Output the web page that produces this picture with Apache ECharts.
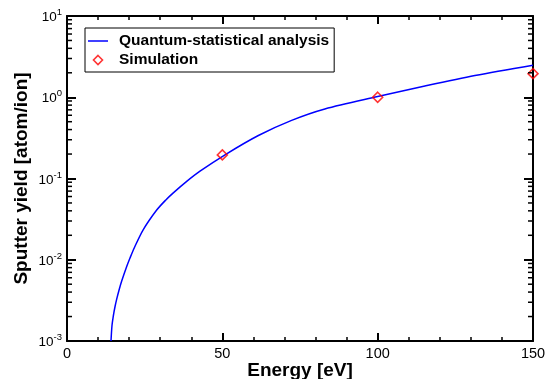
<!DOCTYPE html>
<html>
<head>
<meta charset="utf-8">
<style>html,body{margin:0;padding:0;background:#fff;}#chart{width:545px;height:379px;}</style>
<script src="https://cdn.jsdelivr.net/npm/echarts@6/dist/echarts.min.js"></script>
</head>
<body>
<div id="chart"></div>
<script>
// Data
const curveEnergy = [14.163, 14.485, 14.903, 15.45, 15.998, 16.739, 17.607, 19.217, 20.279, 21.677, 24.56, 28.873, 31.738, 34.216, 38.53, 42.811, 50.858, 61.6, 72.3, 83.0, 100, 115.2, 131.3, 150];
const curveYield  = [0.001, 0.00155, 0.00203, 0.00264, 0.00327, 0.00421, 0.00546, 0.00826, 0.01051, 0.01407, 0.0235, 0.0409, 0.0541, 0.0665, 0.0921, 0.123, 0.1957, 0.338, 0.519, 0.717, 1.02, 1.375, 1.85, 2.48];
const simEnergy = [50, 100, 150];
const simYield  = [0.195, 1.0, 1.95];
const xTicks = [0, 50, 100, 150];
const yDecades = [0.001, 0.01, 0.1, 1, 10];
const minorMultipliers = [2, 3, 4, 5, 6, 7, 8, 9];
const seriesNames = ['Quantum-statistical analysis', 'Simulation'];

const FONT = '"Liberation Sans", Arial, Helvetica, sans-serif';
const minorVals = [];
yDecades.slice(0, -1).forEach(d => minorMultipliers.forEach(m => minorVals.push([0, m * d])));

const chart = echarts.init(document.getElementById('chart'), null, {renderer: 'canvas'});
const xBase = {
  type: 'value', min: xTicks[0], max: xTicks[xTicks.length - 1], interval: 50,
  axisLine: {show: true, onZero: false, lineStyle: {color: '#000', width: 2}},
  axisTick: {show: true, inside: true, length: 8, lineStyle: {color: '#000', width: 2}},
  minorTick: {show: true, splitNumber: 5, length: 4, lineStyle: {color: '#000', width: 1.5}},
  splitLine: {show: false}
};
const yBase = {
  type: 'log', logBase: 10, min: yDecades[0], max: yDecades[yDecades.length - 1],
  axisLine: {show: true, onZero: false, lineStyle: {color: '#000', width: 2}},
  axisTick: {show: true, inside: true, length: 9, lineStyle: {color: '#000', width: 2}},
  minorTick: {show: false},
  splitLine: {show: false}
};
chart.setOption({
  animation: false,
  backgroundColor: '#fff',
  grid: {left: 67, right: 12, top: 16, bottom: 38, containLabel: false, outerBoundsMode: 'none'},
  legend: {
    data: [
      {name: seriesNames[0], icon: 'path://M0,0 L20,0 L20,1.5 L0,1.5 Z', itemStyle: {color: '#0000ff'}},
      {name: seriesNames[1], icon: 'path://M5,0 L10,5 L5,10 L0,5 Z', itemStyle: {color: 'rgba(255,255,255,0)', borderColor: '#ff0000', borderWidth: 1.6}}
    ],
    symbolKeepAspect: true,
    orient: 'vertical', left: 85, top: 28,
    itemWidth: 20, itemHeight: 9, itemGap: 3,
    padding: [5, 5, 4, 3],
    borderColor: '#000', borderWidth: 1, backgroundColor: '#fff',
    textStyle: {fontFamily: FONT, fontSize: 15.5, fontWeight: 'bold', color: '#000', padding: [0, 0, 0, 6]},
    selectedMode: false
  },
  xAxis: [
    Object.assign({}, xBase, {
      position: 'bottom',
      axisLabel: {show: true, margin: 5, color: '#000', fontFamily: FONT, fontSize: 14.5},
      name: 'Energy [eV]', nameLocation: 'middle', nameGap: 20, nameMoveOverlap: false,
      nameTextStyle: {fontFamily: FONT, fontSize: 19, fontWeight: 'bold', color: '#000'}
    }),
    Object.assign({}, xBase, {position: 'top', axisLabel: {show: false}})
  ],
  yAxis: [
    Object.assign({}, yBase, {
      position: 'left',
      axisLabel: {
        show: true, margin: 5,
        formatter: v => '{b|10}{e|' + Math.round(Math.log10(v)) + '}',
        rich: {
          b: {fontFamily: FONT, fontSize: 13.5, color: '#000', lineHeight: 17, verticalAlign: 'bottom'},
          e: {fontFamily: FONT, fontSize: 9.5, color: '#000', verticalAlign: 'top'}
        }
      },
      name: 'Sputter yield [atom/ion]', nameLocation: 'middle', nameGap: 36, nameRotate: 90, nameMoveOverlap: false,
      nameTextStyle: {fontFamily: FONT, fontSize: 19, fontWeight: 'bold', color: '#000'}
    }),
    Object.assign({}, yBase, {position: 'right', axisLabel: {show: false}})
  ],
  series: [
    {
      name: seriesNames[0], type: 'line', xAxisIndex: 0, yAxisIndex: 0,
      data: curveEnergy.map((e, i) => [e, curveYield[i]]),
      symbol: 'none', smooth: 0.3,
      lineStyle: {color: '#0000ff', width: 1.5}, itemStyle: {color: '#0000ff'},
      z: 3
    },
    {
      name: seriesNames[1], type: 'scatter', xAxisIndex: 0, yAxisIndex: 0,
      data: simEnergy.map((e, i) => [e, simYield[i]]),
      symbol: 'diamond', symbolSize: 10,
      itemStyle: {color: 'rgba(255,255,255,0)', borderColor: '#ff0000', borderWidth: 1.6},
      clip: false, z: 4
    },
    {
      name: 'minorTicks', type: 'custom', xAxisIndex: 0, yAxisIndex: 0,
      data: minorVals, encode: {x: 0, y: 1}, silent: true, clip: false, z: 5,
      renderItem: (params, api) => {
        const v = api.value(1);
        const pL = api.coord([xTicks[0], v]);
        const pR = api.coord([xTicks[xTicks.length - 1], v]);
        const st = {stroke: '#000', lineWidth: 1.5};
        return {type: 'group', children: [
          {type: 'line', shape: {x1: pL[0], y1: pL[1], x2: pL[0] + 5, y2: pL[1]}, style: st},
          {type: 'line', shape: {x1: pR[0], y1: pR[1], x2: pR[0] - 5, y2: pR[1]}, style: st}
        ]};
      }
    }
  ]
});
</script>
</body>
</html>
